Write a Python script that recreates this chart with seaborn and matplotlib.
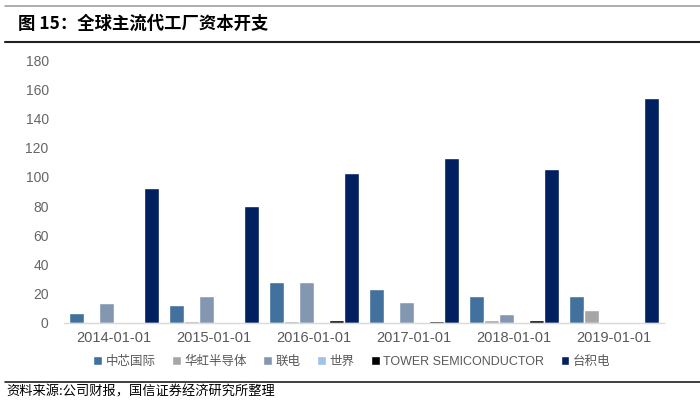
import numpy as np
import pandas as pd
import matplotlib
matplotlib.use('Agg')
import matplotlib.pyplot as plt
import seaborn as sns
from matplotlib.lines import Line2D

###################################################################################
#Data

dates = ['2014-01-01', '2015-01-01', '2016-01-01', '2017-01-01', '2018-01-01', '2019-01-01']
companies = ['中芯国际', '华虹半导体', '联电', '世界', 'TOWER SEMICONDUCTOR', '台积电']

smic = [6.9, 12.3, 27.9, 23.0, 18.2, 18.7]
huahong = [0.8, 1.3, 1.4, 1.0, 1.9, 9.1]
umc = [13.4, 18.2, 28.0, 14.6, 6.1, 0]
vis = [0.8, 0, 0, 0, 0, 0]
tower = [0, 1.0, 2.0, 1.5, 2.0, 0]
tsmc = [92.2, 79.8, 102.8, 112.8, 105.3, 153.8]

palette = ['#41719C', '#A6A6A6', '#8497B0', '#9DC3E6', '#000000', '#002060']

df = pd.DataFrame({'date': dates, companies[0]: smic, companies[1]: huahong,
                   companies[2]: umc, companies[3]: vis, companies[4]: tower,
                   companies[5]: tsmc})
df = df.melt(id_vars='date', var_name='company', value_name='capex')

###################################################################################
#Plot

sns.set_style('white')
plt.rcParams['font.family'] = ['Liberation Sans', 'Noto Sans CJK SC', 'DejaVu Sans']

fig = plt.figure(figsize=(7, 4.05), dpi=100)
ax = fig.add_axes([64/700, 1-323/405, 600/700, 263/405])

sns.barplot(data=df, x='date', y='capex', hue='company', hue_order=companies,
            palette=palette, width=0.9, saturation=1, ax=ax, errorbar=None)

ax.set_ylim(0, 180)
ax.set_yticks(range(0, 181, 20))
ax.set_xlim(-0.5, 5.5)
ax.set_xlabel('')
ax.set_ylabel('')
for s in ['top', 'right', 'left']:
    ax.spines[s].set_visible(False)
ax.spines['bottom'].set_color('#D9D9D9')
ax.spines['bottom'].set_linewidth(1)
ax.set_xticks(np.arange(-0.5, 6, 1), minor=True)
ax.tick_params(axis='x', which='minor', length=4, color='#D9D9D9', width=1, direction='out')
ax.tick_params(axis='x', which='major', length=0, pad=6, labelsize=10.5, labelcolor='#595959')
ax.tick_params(axis='y', length=0, pad=11, labelsize=10, labelcolor='#666666')

handles, labels = ax.get_legend_handles_labels()
ax.legend(handles, labels, ncol=6, loc='center', bbox_to_anchor=(352/700, 1-362/405),
          bbox_transform=fig.transFigure, frameon=False, fontsize=9,
          handlelength=0.7, handleheight=0.7, handletextpad=0.3, columnspacing=1.3,
          labelcolor='#595959')

fig.text(18/700, 1-24/405, '图 15：全球主流代工厂资本开支', fontsize=12.5, fontweight='bold',
         va='center', ha='left', family=['Noto Sans CJK SC', 'DejaVu Sans'], color='#000000')
fig.text(6/700, 1-392/405, '资料来源:公司财报，国信证券经济研究所整理', fontsize=9.5,
         va='center', ha='left', family=['Noto Sans CJK SC', 'DejaVu Sans'], color='#000000')

fig.add_artist(Line2D([5/700, 1], [1-6/405, 1-6/405], color='#A0A0A0', lw=1.2))
fig.add_artist(Line2D([5/700, 1], [1-42/405, 1-42/405], color='#202020', lw=1.5))
fig.add_artist(Line2D([5/700, 1], [1-382/405, 1-382/405], color='#202020', lw=1.2))

fig.savefig('out.png', dpi=100)
